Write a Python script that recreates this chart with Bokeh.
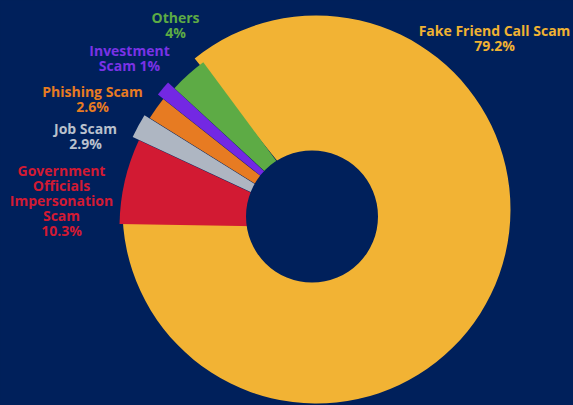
import math
import textwrap
from bokeh.plotting import figure
from bokeh.models import ColumnDataSource, Range1d
from bokeh.core.properties import value
from bokeh.embed import file_html
from bokeh.resources import INLINE

# ---------------- data ----------------
categories = ["Fake Friend Call Scam", "Government Officials Impersonation Scam",
              "Job Scam", "Phishing Scam", "Investment Scam", "Others"]
label_pct = [79.2, 10.3, 2.9, 2.6, 1, 4]          # percentages printed on the labels
slice_share = [85.4, 6.7, 1.9, 1.8, 1.2, 3.0]     # share of the circle each drawn slice takes

# ---------------- style / layout ----------------
BG = "#00205B"
colors = ["#F2B334", "#D21A33", "#AEB6C2", "#E77B22", "#7328E3", "#5DAB45"]
label_colors = ["#F0B232", "#D21A33", "#B9C1CD", "#E77B22", "#7A32E6", "#5DAB45"]
W, H = 573, 405
cx, cy = 325, 227            # pie centre (pixels from top-left)
hole_cx, hole_cy, hole_r = 311.5, 216, 66
radii = [194, 206, 207, 207, 207, 205.5]
offsets = [(-9, -18), (0, 0), (0, 0), (0, 0), (0, 0), (0, 0)]   # pixel shifts
explode = [0, 0, 6, 0, 7, 0]
lead_overlap = [2.4, 0, 0, 0, 0, 0]   # degrees a slice reaches back under its neighbour
start_clock = 323.5          # degrees clockwise from 12 o'clock where first slice begins
# label anchor (centre x, first line centre y) in pixels, wrap width, pct inline
label_pos = [(494, 30), (61, 170), (85, 128), (92, 91), (129, 50), (175, 17)]
label_wrap = [30, 13, 20, 20, 10, 20]
pct_inline = [False, False, False, False, True, False]
LINE_STEP = 15

def ydata(ypix):
    return H - ypix

total = sum(slice_share)
xs, ys, rs, sa, ea = [], [], [], [], []
acc = 0.0
for share, r, ex, (ox, oy), lo in zip(slice_share, radii, explode, offsets, lead_overlap):
    c0 = start_clock + acc / total * 360.0
    c1 = start_clock + (acc + share) / total * 360.0
    mid = math.radians((c0 + c1) / 2)
    dx = ex * math.sin(mid)
    dy = ex * math.cos(mid)
    xs.append(cx + ox + dx)
    ys.append(ydata(cy + oy) + dy)
    rs.append(r)
    sa.append(math.radians(90 - (c0 - lo)))
    ea.append(math.radians(90 - c1))
    acc += share

data = dict(x=xs, y=ys, r=rs, sa=sa, ea=ea, color=colors, name=categories)

p = figure(width=W, height=H, x_range=Range1d(0, W), y_range=Range1d(0, H),
           output_backend="svg", toolbar_location=None, min_border=0,
           x_axis_location=None, y_axis_location=None,
           background_fill_color=BG, border_fill_color=BG, outline_line_color=None)
p.grid.visible = False

# big slice first, small slices on top
src_big = ColumnDataSource({k: v[:1] for k, v in data.items()})
src_small = ColumnDataSource({k: v[1:] for k, v in data.items()})
for s in (src_big, src_small):
    p.wedge(x="x", y="y", radius="r", start_angle="sa", end_angle="ea",
            direction="clock", fill_color="color", line_color=None, source=s)

p.scatter(x=[hole_cx], y=[ydata(hole_cy)], size=2 * hole_r, marker="circle",
          fill_color=BG, line_color=None)

# labels
tx, ty, tt, tc = [], [], [], []
for name, pct, (lx, ly), wrap, inline, col in zip(categories, label_pct, label_pos,
                                                   label_wrap, pct_inline, label_colors):
    pct_s = f"{pct:g}%"
    if inline:
        lines = textwrap.wrap(f"{name} {pct_s}", wrap)
    else:
        lines = textwrap.wrap(name, wrap) + [pct_s]
    for i, ln in enumerate(lines):
        tx.append(lx)
        ty.append(ydata(ly + i * LINE_STEP))
        tt.append(ln)
        tc.append(col)

p.text(x=tx, y=ty, text=tt, text_color=tc, text_align="center", text_baseline="middle",
       text_font=value("Open Sans"), text_font_size="14px", text_font_style="bold")

html = file_html(p, INLINE, title="Scam types")
html = html.replace("</head>", "<style>html,body{margin:0;padding:0;background:#00205B;overflow:hidden;}</style>\n</head>", 1)
open("out.html", "w").write(html)
